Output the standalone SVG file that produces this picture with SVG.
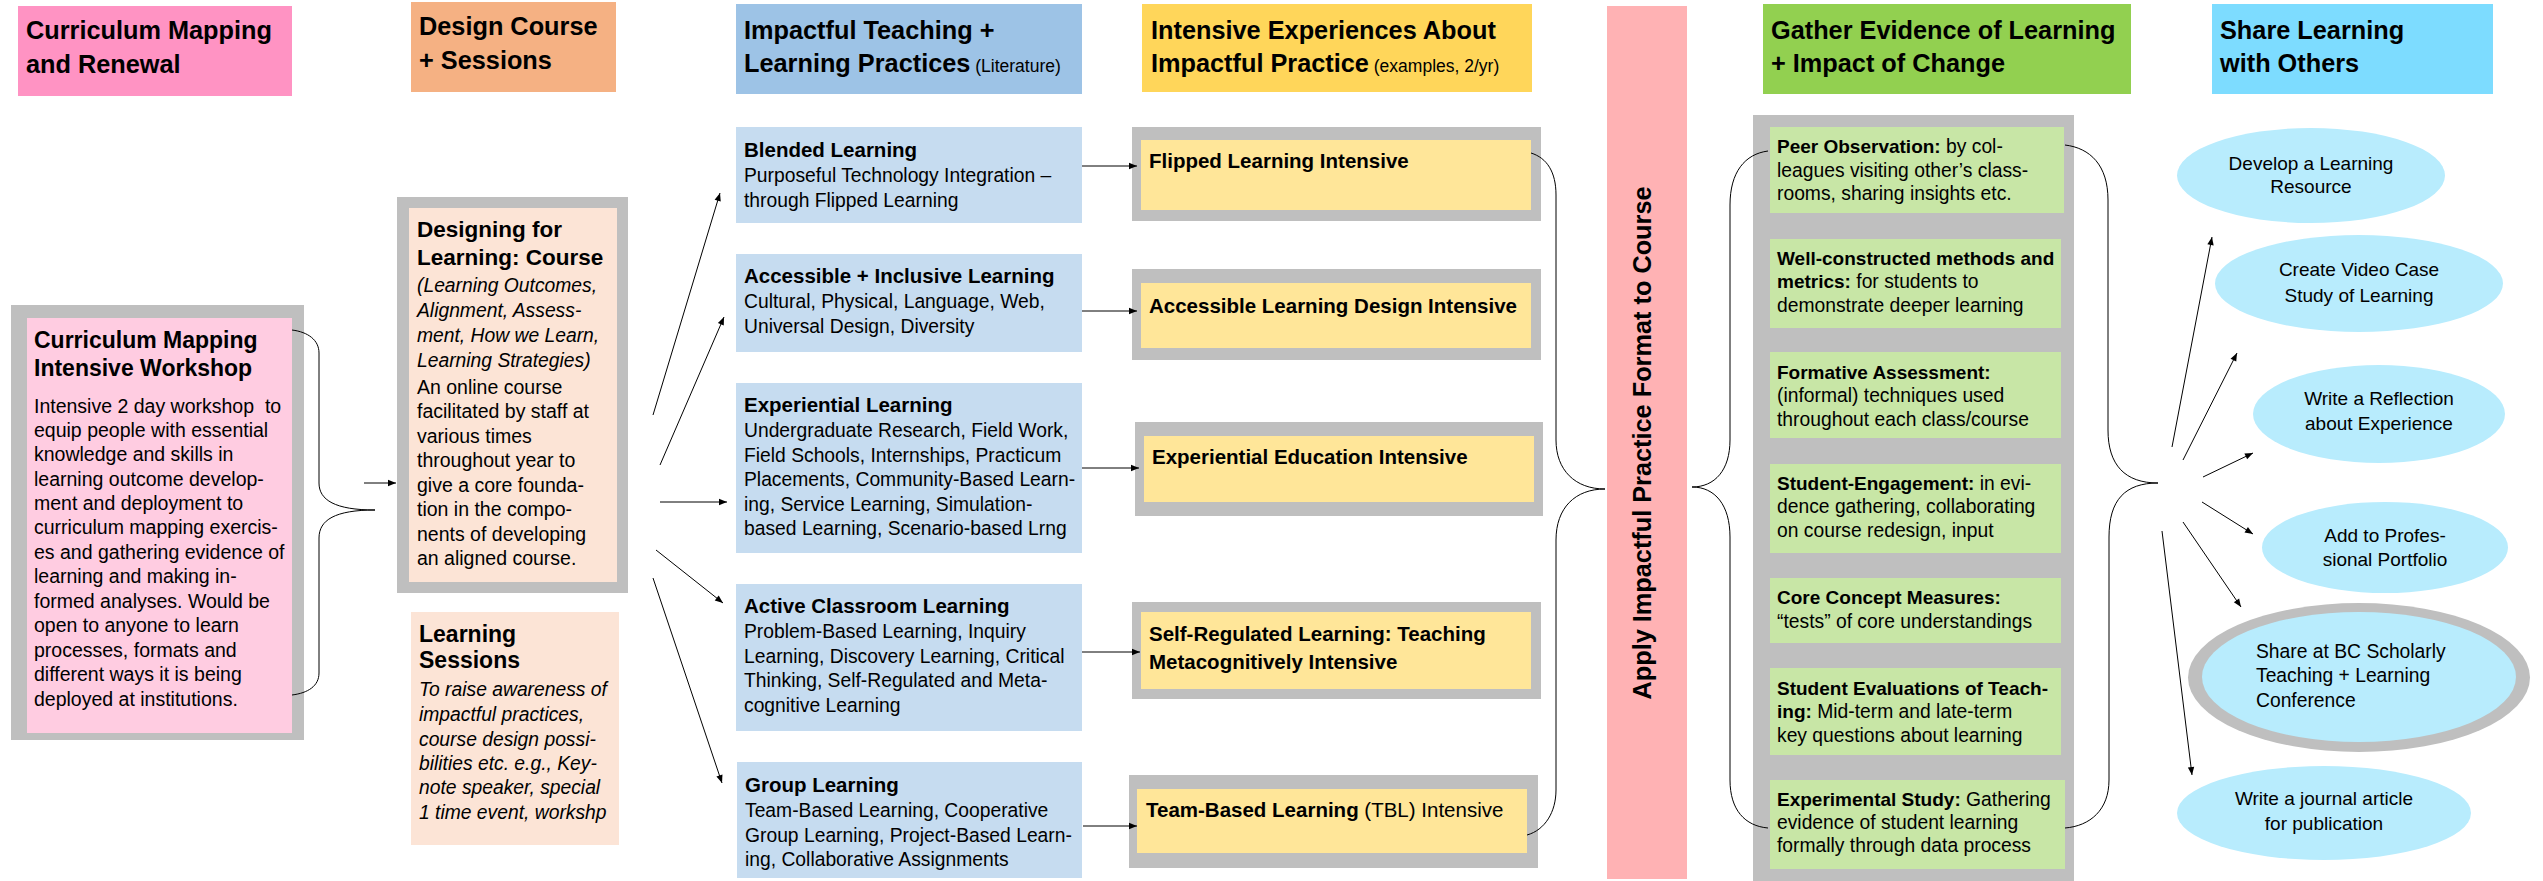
<svg xmlns="http://www.w3.org/2000/svg" width="2543" height="881" viewBox="0 0 2543 881">
<defs>
<marker id="ah" viewBox="0 0 10 10" refX="10" refY="5" markerWidth="10" markerHeight="8" markerUnits="userSpaceOnUse" orient="auto"><path d="M0,1 L10,5 L0,9 z" fill="#000"/></marker>
<style>
text{font-family:"Liberation Sans",Arial,sans-serif;fill:#000}
.h{font-size:25.3px;font-weight:bold}
.hs{font-size:17.5px;font-weight:normal}
.t23{font-size:23px;font-weight:bold}
.t22{font-size:22.5px;font-weight:bold}
.b{font-size:19.5px}
.i{font-size:19.3px;font-style:italic}
.ct{font-size:20.5px;font-weight:bold}
.cb{font-size:19.3px}
.it{font-size:20.5px;font-weight:bold}
.g{font-size:19.3px}
.gb{font-weight:bold;font-size:19px}
.e{font-size:19px;text-anchor:middle}
.e5{font-size:19.3px}
.gray{fill:#BFBFBF}
.blue{fill:#C6DCF0}
.inten{fill:#FFE699}
.grn{fill:#C8E6A6}
.ell{fill:#B8ECFD}
.con{stroke:#000;stroke-width:1;fill:none}
.arr{stroke:#000;stroke-width:1;fill:none;marker-end:url(#ah)}
</style>
</defs>
<rect width="2543" height="881" fill="#FFFFFF"/>

<g id="header-curriculum">
<rect x="18" y="6" width="274" height="90" fill="#FF93C3"/>
<text class="h" x="26" y="39">Curriculum Mapping</text>
<text class="h" x="26" y="73">and Renewal</text>
</g>
<g id="header-design">
<rect x="411" y="2" width="205" height="90" fill="#F5B183"/>
<text class="h" x="419" y="35">Design Course</text>
<text class="h" x="419" y="69">+ Sessions</text>
</g>
<g id="header-impactful">
<rect x="736" y="4" width="346" height="90" fill="#9DC3E6"/>
<text class="h" x="744" y="39">Impactful Teaching +</text>
<text class="h" x="744" y="72">Learning Practices<tspan class="hs"> (Literature)</tspan></text>
</g>
<g id="header-intensive">
<rect x="1142" y="4" width="390" height="88" fill="#FFD65A"/>
<text class="h" x="1151" y="39">Intensive Experiences About</text>
<text class="h" x="1151" y="72">Impactful Practice<tspan class="hs"> (examples, 2/yr)</tspan></text>
</g>
<g id="header-gather">
<rect x="1763" y="4" width="368" height="90" fill="#92D050"/>
<text class="h" x="1771" y="39">Gather Evidence of Learning</text>
<text class="h" x="1771" y="72">+ Impact of Change</text>
</g>
<g id="header-share">
<rect x="2212" y="4" width="281" height="90" fill="#7DDCFF"/>
<text class="h" x="2220" y="39">Share Learning</text>
<text class="h" x="2220" y="72">with Others</text>
</g>

<g id="workshop">
<rect class="gray" x="11" y="305" width="293" height="435"/>
<rect x="27" y="318" width="265" height="415" fill="#FFCCE1"/>
<text class="t23" x="34" y="348">Curriculum Mapping</text>
<text class="t23" x="34" y="376">Intensive Workshop</text>
<text class="b" x="34" y="413" xml:space="preserve">Intensive 2 day workshop  to</text>
<text class="b" x="34" y="437">equip people with essential</text>
<text class="b" x="34" y="461">knowledge and skills in</text>
<text class="b" x="34" y="486">learning outcome develop-</text>
<text class="b" x="34" y="510">ment and deployment to</text>
<text class="b" x="34" y="534">curriculum mapping exercis-</text>
<text class="b" x="34" y="559">es and gathering evidence of</text>
<text class="b" x="34" y="583">learning and making in-</text>
<text class="b" x="34" y="608">formed analyses. Would be</text>
<text class="b" x="34" y="632">open to anyone to learn</text>
<text class="b" x="34" y="657">processes, formats and</text>
<text class="b" x="34" y="681">different ways it is being</text>
<text class="b" x="34" y="706">deployed at institutions.</text>
</g>

<g id="designing-course">
<rect class="gray" x="397" y="197" width="231" height="396"/>
<rect x="409" y="208" width="208" height="374" fill="#FCE4D6"/>
<text class="t22" x="417" y="237">Designing for</text>
<text class="t22" x="417" y="265">Learning: Course</text>
<text class="i" x="417" y="292">(Learning Outcomes,</text>
<text class="i" x="417" y="317">Alignment, Assess-</text>
<text class="i" x="417" y="342">ment, How we Learn,</text>
<text class="i" x="417" y="367">Learning Strategies)</text>
<text class="b" x="417" y="394">An online course</text>
<text class="b" x="417" y="418">facilitated by staff at</text>
<text class="b" x="417" y="443">various times</text>
<text class="b" x="417" y="467">throughout year to</text>
<text class="b" x="417" y="492">give a core founda-</text>
<text class="b" x="417" y="516">tion in the compo-</text>
<text class="b" x="417" y="541">nents of developing</text>
<text class="b" x="417" y="565">an aligned course.</text>
</g>

<g id="learning-sessions">
<rect x="411" y="612" width="208" height="233" fill="#FCE4D6"/>
<text class="t23" x="419" y="642">Learning</text>
<text class="t23" x="419" y="668">Sessions</text>
<text class="i" x="419" y="696">To raise awareness of</text>
<text class="i" x="419" y="721">impactful practices,</text>
<text class="i" x="419" y="746">course design possi-</text>
<text class="i" x="419" y="770">bilities etc. e.g., Key-</text>
<text class="i" x="419" y="794">note speaker, special</text>
<text class="i" x="419" y="819">1 time event, workshp</text>
</g>

<g id="blended">
<rect class="blue" x="736" y="127" width="346" height="96"/>
<text class="ct" x="744" y="157">Blended Learning</text>
<text class="cb" x="744" y="182">Purposeful Technology Integration –</text>
<text class="cb" x="744" y="207">through Flipped Learning</text>
</g>
<g id="accessible">
<rect class="blue" x="736" y="254" width="346" height="98"/>
<text class="ct" x="744" y="283">Accessible + Inclusive Learning</text>
<text class="cb" x="744" y="308">Cultural, Physical, Language, Web,</text>
<text class="cb" x="744" y="333">Universal Design, Diversity</text>
</g>
<g id="experiential">
<rect class="blue" x="736" y="383" width="346" height="170"/>
<text class="ct" x="744" y="412">Experiential Learning</text>
<text class="cb" x="744" y="437">Undergraduate Research, Field Work,</text>
<text class="cb" x="744" y="462">Field Schools, Internships, Practicum</text>
<text class="cb" x="744" y="486">Placements, Community-Based Learn-</text>
<text class="cb" x="744" y="511">ing, Service Learning, Simulation-</text>
<text class="cb" x="744" y="535">based Learning, Scenario-based Lrng</text>
</g>
<g id="active">
<rect class="blue" x="736" y="584" width="346" height="147"/>
<text class="ct" x="744" y="613">Active Classroom Learning</text>
<text class="cb" x="744" y="638">Problem-Based Learning, Inquiry</text>
<text class="cb" x="744" y="663">Learning, Discovery Learning, Critical</text>
<text class="cb" x="744" y="687">Thinking, Self-Regulated and Meta-</text>
<text class="cb" x="744" y="712">cognitive Learning</text>
</g>
<g id="group">
<rect class="blue" x="737" y="762" width="345" height="116"/>
<text class="ct" x="745" y="792">Group Learning</text>
<text class="cb" x="745" y="817">Team-Based Learning, Cooperative</text>
<text class="cb" x="745" y="842">Group Learning, Project-Based Learn-</text>
<text class="cb" x="745" y="866">ing, Collaborative Assignments</text>
</g>

<g id="flipped-intensive">
<rect class="gray" x="1132" y="127" width="409" height="94"/>
<rect class="inten" x="1141" y="140" width="390" height="70"/>
<text class="it" x="1149" y="168">Flipped Learning Intensive</text>
</g>
<g id="accessible-intensive">
<rect class="gray" x="1132" y="269" width="409" height="91"/>
<rect class="inten" x="1141" y="283" width="390" height="65"/>
<text class="it" x="1149" y="313">Accessible Learning Design Intensive</text>
</g>
<g id="experiential-intensive">
<rect class="gray" x="1135" y="422" width="408" height="94"/>
<rect class="inten" x="1144" y="436" width="390" height="66"/>
<text class="it" x="1152" y="464">Experiential Education Intensive</text>
</g>
<g id="srl-intensive">
<rect class="gray" x="1132" y="602" width="409" height="97"/>
<rect class="inten" x="1141" y="612" width="390" height="77"/>
<text class="it" x="1149" y="641">Self-Regulated Learning: Teaching</text>
<text class="it" x="1149" y="669">Metacognitively Intensive</text>
</g>
<g id="tbl-intensive">
<rect class="gray" x="1129" y="775" width="409" height="93"/>
<rect class="inten" x="1137" y="789" width="390" height="64"/>
<text class="it" x="1146" y="817">Team-Based Learning<tspan font-weight="normal"> (TBL) Intensive</tspan></text>
</g>

<g id="apply-bar">
<rect x="1607" y="6" width="80" height="873" fill="#FFB2B4"/>
<text class="h" transform="translate(1651,443) rotate(-90)" text-anchor="middle">Apply Impactful Practice Format to Course</text>
</g>

<g id="evidence-panel">
<rect class="gray" x="1753" y="115" width="321" height="766"/>
</g>
<g id="peer-observation">
<rect class="grn" x="1770" y="127" width="294" height="86"/>
<text class="g" x="1777" y="153"><tspan class="gb">Peer Observation:</tspan> by col-</text>
<text class="g" x="1777" y="177">leagues visiting other’s class-</text>
<text class="g" x="1777" y="200">rooms, sharing insights etc.</text>
</g>
<g id="methods-metrics">
<rect class="grn" x="1770" y="239" width="291" height="89"/>
<text class="g" x="1777" y="265"><tspan class="gb">Well-constructed methods and</tspan></text>
<text class="g" x="1777" y="288"><tspan class="gb">metrics:</tspan> for students to</text>
<text class="g" x="1777" y="312">demonstrate deeper learning</text>
</g>
<g id="formative">
<rect class="grn" x="1770" y="352" width="291" height="86"/>
<text class="g" x="1777" y="379"><tspan class="gb">Formative Assessment:</tspan></text>
<text class="g" x="1777" y="402">(informal) techniques used</text>
<text class="g" x="1777" y="426">throughout each class/course</text>
</g>
<g id="engagement">
<rect class="grn" x="1770" y="464" width="291" height="89"/>
<text class="g" x="1777" y="490"><tspan class="gb">Student-Engagement:</tspan> in evi-</text>
<text class="g" x="1777" y="513">dence gathering, collaborating</text>
<text class="g" x="1777" y="537">on course redesign, input</text>
</g>
<g id="core-concept">
<rect class="grn" x="1770" y="578" width="291" height="65"/>
<text class="g" x="1777" y="604"><tspan class="gb">Core Concept Measures:</tspan></text>
<text class="g" x="1777" y="628">“tests” of core understandings</text>
</g>
<g id="evaluations">
<rect class="grn" x="1770" y="668" width="291" height="87"/>
<text class="g" x="1777" y="695"><tspan class="gb">Student Evaluations of Teach-</tspan></text>
<text class="g" x="1777" y="718"><tspan class="gb">ing:</tspan> Mid-term and late-term</text>
<text class="g" x="1777" y="742">key questions about learning</text>
</g>
<g id="experimental">
<rect class="grn" x="1770" y="780" width="295" height="89"/>
<text class="g" x="1777" y="806"><tspan class="gb">Experimental Study:</tspan> Gathering</text>
<text class="g" x="1777" y="829">evidence of student learning</text>
<text class="g" x="1777" y="852">formally through data process</text>
</g>

<g id="share-resource">
<ellipse class="ell" cx="2311" cy="175.5" rx="134" ry="47.5"/>
<text class="e" x="2311" y="170">Develop a Learning</text>
<text class="e" x="2311" y="193">Resource</text>
</g>
<g id="share-video">
<ellipse class="ell" cx="2359" cy="283.5" rx="144" ry="48.5"/>
<text class="e" x="2359" y="276">Create Video Case</text>
<text class="e" x="2359" y="302">Study of Learning</text>
</g>
<g id="share-reflection">
<ellipse class="ell" cx="2379" cy="414" rx="126" ry="49"/>
<text class="e" x="2379" y="405">Write a Reflection</text>
<text class="e" x="2379" y="430">about Experience</text>
</g>
<g id="share-portfolio">
<ellipse class="ell" cx="2385" cy="547.5" rx="123" ry="45.5"/>
<text class="e" x="2385" y="542">Add to Profes-</text>
<text class="e" x="2385" y="566">sional Portfolio</text>
</g>
<g id="share-conference">
<ellipse cx="2359" cy="677.5" rx="171" ry="74.5" fill="#BFBFBF"/>
<ellipse class="ell" cx="2359" cy="677" rx="157" ry="65"/>
<text class="e5" x="2256" y="658">Share at BC Scholarly</text>
<text class="e5" x="2256" y="682">Teaching + Learning</text>
<text class="e5" x="2256" y="707">Conference</text>
</g>
<g id="share-journal">
<ellipse class="ell" cx="2324" cy="813" rx="147" ry="47"/>
<text class="e" x="2324" y="805">Write a journal article</text>
<text class="e" x="2324" y="830">for publication</text>
</g>

<g id="connectors">
<path class="con" d="M292,330 C308,332 319,340 319,353 L319,483 C319,500 335,510 375,510 C335,510 319,520 319,538 L319,673 C319,686 308,693 292,695"/>
<line class="arr" x1="364" y1="483" x2="396" y2="483"/>
<line class="arr" x1="653" y1="415" x2="720" y2="193"/>
<line class="arr" x1="660" y1="465" x2="724" y2="317"/>
<line class="arr" x1="660" y1="502" x2="727" y2="502"/>
<line class="arr" x1="656" y1="550" x2="723" y2="603"/>
<line class="arr" x1="653" y1="578" x2="722" y2="783"/>
<line class="arr" x1="1082" y1="166" x2="1137" y2="166"/>
<line class="arr" x1="1082" y1="311" x2="1137" y2="311"/>
<line class="arr" x1="1082" y1="468" x2="1139" y2="468"/>
<line class="arr" x1="1082" y1="652" x2="1140" y2="652"/>
<line class="arr" x1="1083" y1="826" x2="1137" y2="826"/>
<path class="con" d="M1531,153 C1547,158 1556,172 1556,195 L1556,440 C1556,470 1575,489 1605,489 C1575,489 1556,508 1556,540 L1556,790 C1556,812 1545,830 1527,835"/>
<path class="con" d="M1768,151 C1745,154 1730,172 1730,205 L1730,440 C1730,470 1715,487 1692,487 C1715,487 1730,505 1730,537 L1730,780 C1730,810 1745,826 1768,828"/>
<path class="con" d="M2065,145 C2090,148 2108,165 2108,200 L2108,430 C2108,465 2125,483 2158,483 C2125,483 2109,500 2109,537 L2109,780 C2109,810 2090,826 2065,828"/>
<line class="arr" x1="2172" y1="447" x2="2212" y2="237"/>
<line class="arr" x1="2183" y1="460" x2="2237" y2="353"/>
<line class="arr" x1="2203" y1="477" x2="2253" y2="453"/>
<line class="arr" x1="2202" y1="502" x2="2253" y2="534"/>
<line class="arr" x1="2183" y1="522" x2="2241" y2="607"/>
<line class="arr" x1="2162" y1="531" x2="2192" y2="775"/>
</g>
</svg>
